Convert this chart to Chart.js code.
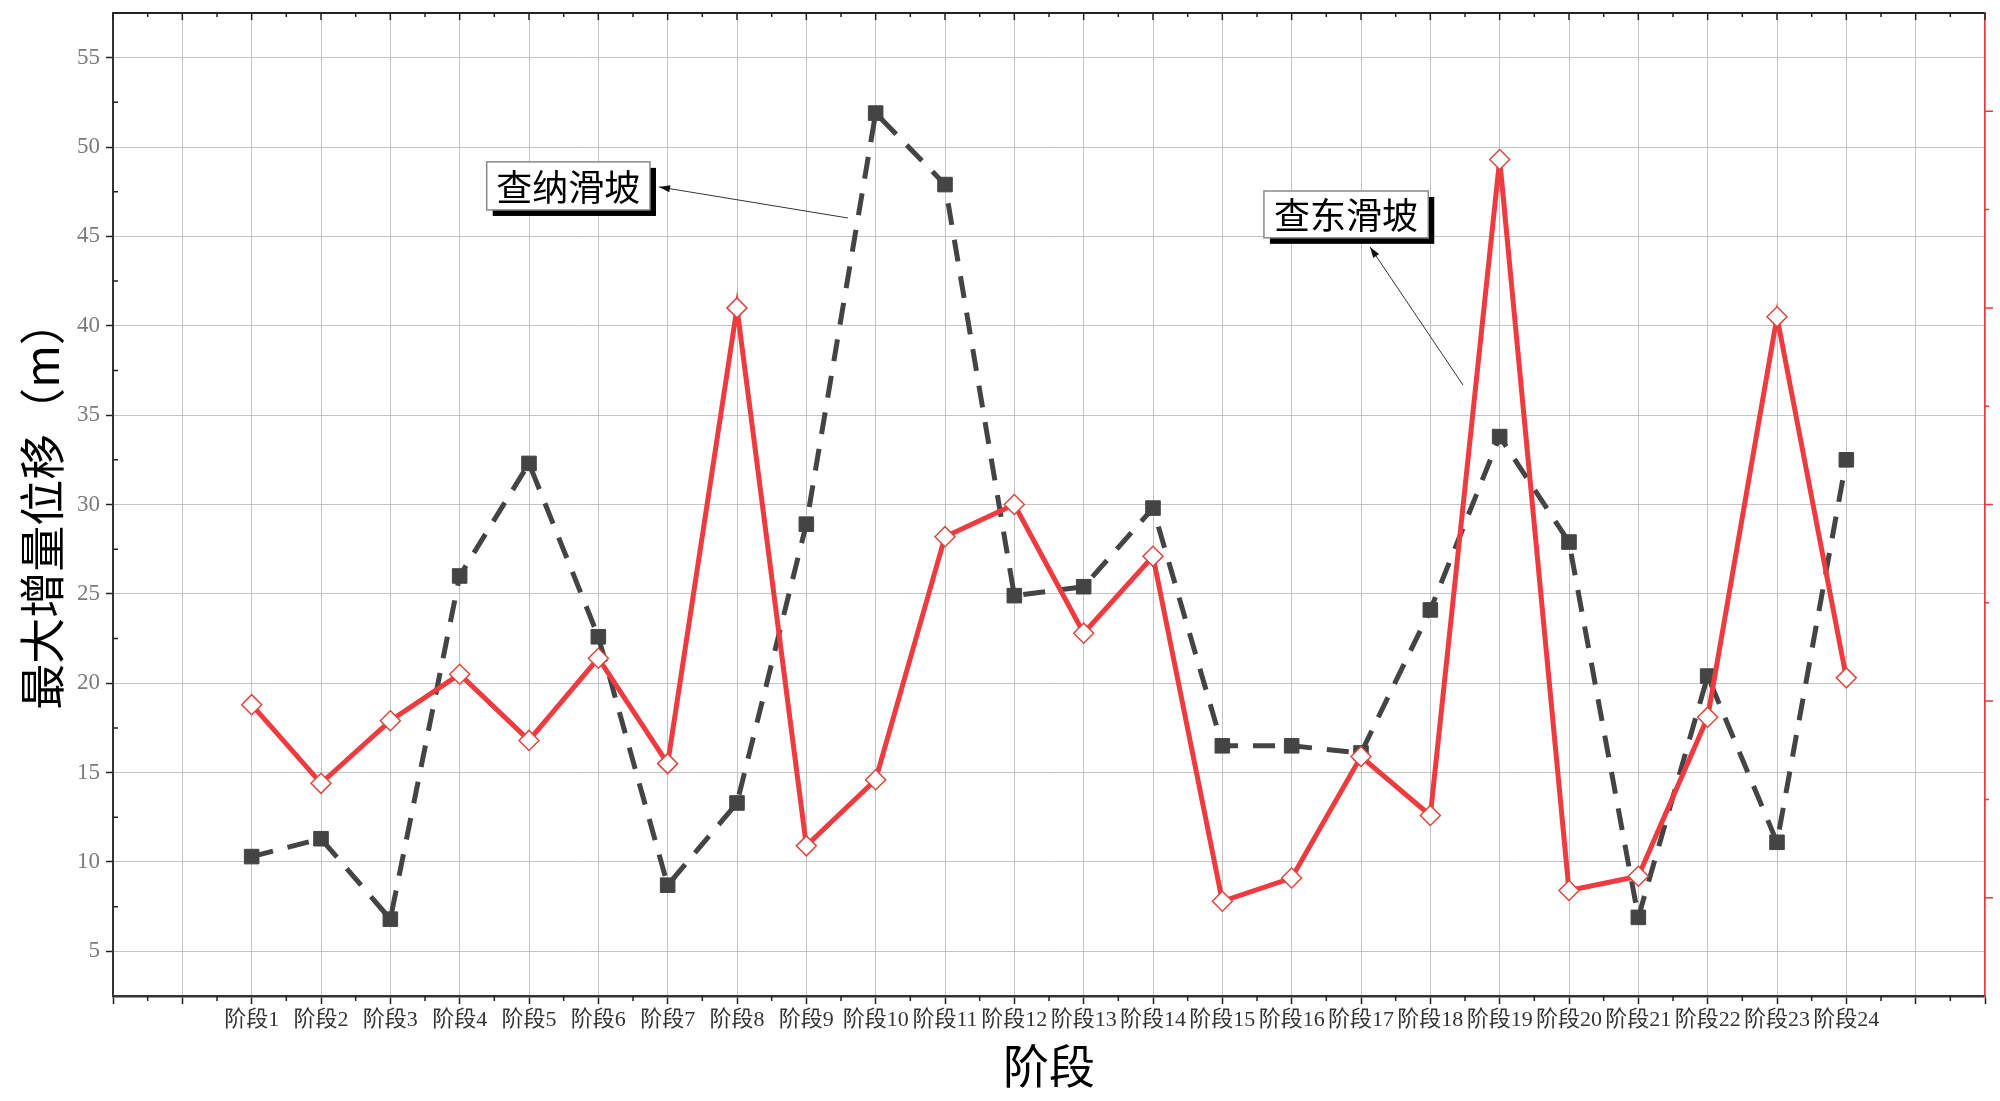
<!DOCTYPE html>
<html><head><meta charset="utf-8">
<script src="https://cdn.jsdelivr.net/npm/chart.js@4.4.1/dist/chart.umd.min.js"></script>
<style>html,body{margin:0;padding:0;background:#fff}#wrap{width:2000px;height:1101px;position:relative}</style>
</head><body><div id="wrap"><canvas id="c"></canvas></div>
<script>
const categories = ['阶段1','阶段2','阶段3','阶段4','阶段5','阶段6','阶段7','阶段8','阶段9','阶段10','阶段11','阶段12','阶段13','阶段14','阶段15','阶段16','阶段17','阶段18','阶段19','阶段20','阶段21','阶段22','阶段23','阶段24'];
const chanaValues = [10.3, 11.3, 6.8, 26.0, 32.3, 22.6, 8.7, 13.3, 28.9, 51.9, 47.9, 24.9, 25.4, 29.8, 16.5, 16.5, 16.1, 24.1, 33.8, 27.9, 6.9, 20.4, 11.1, 32.5];
const chadongValues = [18.8, 14.4, 17.9, 20.5, 16.8, 21.4, 15.5, 41.0, 10.9, 14.6, 28.2, 30.0, 22.8, 27.1, 7.8, 9.1, 15.9, 12.6, 49.3, 8.4, 9.2, 18.1, 40.5, 20.3];
const seriesNames = ['查纳滑坡', '查东滑坡'];
const yTickValues = [5, 10, 15, 20, 25, 30, 35, 40, 45, 50, 55];
const xMin = -2, xMax = 25;
const yMin = 2.5, yMax = 57.5;
const yTitle = '最大增量位移（m）';
const xTitle = '阶段';
// annotation boxes & arrows, in data space (x = category index, y = value)
const annotations = [
  {text: '查纳滑坡', box: [3.39, 49.17, 5.745, 46.48], from: [8.60, 46.03], to: [5.875, 47.77]},
  {text: '查东滑坡', box: [14.60, 47.54, 16.97, 44.92], from: [17.47, 36.69], to: [16.13, 44.41]}
];

const FONT = '"Liberation Serif", "Noto Sans CJK SC", serif';

const decor = {
  id: 'decor',
  afterDraw(chart) {
    const ctx = chart.ctx, x = chart.scales.x, y = chart.scales.y, y2 = chart.scales.y2;
    const a = chart.chartArea;
    ctx.save();
    ctx.strokeStyle = '#222'; ctx.lineWidth = 1.5;
    ctx.beginPath();
    for (let v = xMin; v <= xMax; v += 0.5) {
      const px = x.getPixelForValue(v);
      const major = Number.isInteger(v);
      ctx.moveTo(px, a.top); ctx.lineTo(px, a.top + (major ? 7 : 4));
      if (!major) { ctx.moveTo(px, a.bottom); ctx.lineTo(px, a.bottom + 5); }
    }
    for (let v = 7.5; v < yMax; v += 5) {
      const py = y.getPixelForValue(v);
      ctx.moveTo(a.left, py); ctx.lineTo(a.left + 5, py);
    }
    ctx.stroke();
    ctx.strokeStyle = '#e8383d'; ctx.lineWidth = 1.5;
    ctx.beginPath();
    for (let k = 1; k < 10; k++) {
      const py = y2.getPixelForValue(k);
      ctx.moveTo(a.right, py); ctx.lineTo(a.right + (k % 2 ? 8 : 4), py);
    }
    ctx.stroke();
    annotations.forEach(an => {
      const l = x.getPixelForValue(an.box[0]), t = y.getPixelForValue(an.box[1]);
      const r = x.getPixelForValue(an.box[2]), b = y.getPixelForValue(an.box[3]);
      ctx.fillStyle = '#000';
      ctx.fillRect(l + 6, t + 6, r - l, b - t);
      ctx.fillStyle = '#fff';
      ctx.fillRect(l, t, r - l, b - t);
      ctx.strokeStyle = '#888'; ctx.lineWidth = 1.5;
      ctx.strokeRect(l, t, r - l, b - t);
      ctx.fillStyle = '#000';
      ctx.font = '36px "Noto Sans CJK SC"';
      ctx.textAlign = 'center'; ctx.textBaseline = 'middle';
      ctx.fillText(an.text, (l + r) / 2, (t + b) / 2 + 1);
      const fx = x.getPixelForValue(an.from[0]), fy = y.getPixelForValue(an.from[1]);
      const tx = x.getPixelForValue(an.to[0]), ty = y.getPixelForValue(an.to[1]);
      ctx.strokeStyle = '#333'; ctx.lineWidth = 1;
      ctx.beginPath(); ctx.moveTo(fx, fy); ctx.lineTo(tx, ty); ctx.stroke();
      const ang = Math.atan2(ty - fy, tx - fx);
      ctx.beginPath();
      ctx.moveTo(tx, ty);
      ctx.lineTo(tx - 11 * Math.cos(ang) + 3.5 * Math.sin(ang), ty - 11 * Math.sin(ang) - 3.5 * Math.cos(ang));
      ctx.lineTo(tx - 11 * Math.cos(ang) - 3.5 * Math.sin(ang), ty - 11 * Math.sin(ang) + 3.5 * Math.cos(ang));
      ctx.closePath(); ctx.fillStyle = '#111'; ctx.fill();
    });
    ctx.restore();
  }
};

new Chart(document.getElementById('c'), {
  type: 'line',
  data: {
    datasets: [
      {
        label: seriesNames[1],
        data: chadongValues.map((v, i) => ({x: i, y: v})),
        borderColor: '#ee3b3f', borderWidth: 5,
        pointStyle: 'rectRot', pointRadius: 10, pointBackgroundColor: '#fff',
        pointBorderColor: '#d9473f', pointBorderWidth: 1.5, tension: 0
      },
      {
        label: seriesNames[0],
        data: chanaValues.map((v, i) => ({x: i, y: v})),
        borderColor: '#444', borderWidth: 5, borderDash: [22, 15],
        pointStyle: 'rect', pointRadius: 10.3, pointBackgroundColor: '#444',
        pointBorderColor: '#444', pointBorderWidth: 1, tension: 0
      }
    ]
  },
  options: {
    responsive: true, maintainAspectRatio: false, animation: false,
    layout: {padding: 0},
    plugins: {legend: {display: false}, tooltip: {enabled: false}},
    scales: {
      x: {
        type: 'linear', position: 'bottom', min: xMin, max: xMax,
        afterBuildTicks: s => { const t = []; for (let v = xMin; v <= xMax; v++) t.push({value: v}); s.ticks = t; },
        afterFit: s => { s.height = 105; s.paddingLeft = 0; s.paddingRight = 0; },
        ticks: {autoSkip: false, maxRotation: 0, padding: 3, color: '#333',
          font: {family: FONT, size: 22},
          callback: v => categories[v] !== undefined ? categories[v] : ''},
        grid: {color: '#c4c4c4', lineWidth: 1, tickLength: 8, tickColor: '#222', tickWidth: 1.5},
        border: {color: '#333', width: 2.5},
        title: {display: true, text: xTitle, color: '#000', font: {family: '"Noto Sans CJK SC"', size: 46}, padding: {top: 0, bottom: 8}}
      },
      x2: {
        type: 'linear', position: 'top', min: xMin, max: xMax,
        afterFit: s => { s.height = 13; s.paddingLeft = 0; s.paddingRight = 0; },
        ticks: {display: false},
        grid: {drawOnChartArea: false, drawTicks: false},
        border: {color: '#222', width: 2}
      },
      y: {
        type: 'linear', position: 'left', min: yMin, max: yMax,
        afterBuildTicks: s => { s.ticks = yTickValues.map(v => ({value: v})); },
        afterFit: s => { s.width = 113; s.paddingTop = 0; s.paddingBottom = 0; },
        ticks: {padding: 6, color: '#7a7a7a', font: {family: FONT, size: 23}},
        grid: {color: '#c4c4c4', lineWidth: 1, tickLength: 7, tickColor: '#222', tickWidth: 1.5},
        border: {color: '#333', width: 2},
        title: {display: true, text: yTitle, color: '#000', font: {family: '"Noto Sans CJK SC"', size: 46}, padding: {top: 14, bottom: 0}}
      },
      y2: {
        type: 'linear', position: 'right', min: 0, max: 10,
        afterFit: s => { s.width = 15; s.paddingTop = 0; s.paddingBottom = 0; },
        ticks: {display: false},
        grid: {drawOnChartArea: false, drawTicks: false},
        border: {color: '#e8383d', width: 1.5}
      }
    }
  },
  plugins: [decor]
});
</script></body></html>
